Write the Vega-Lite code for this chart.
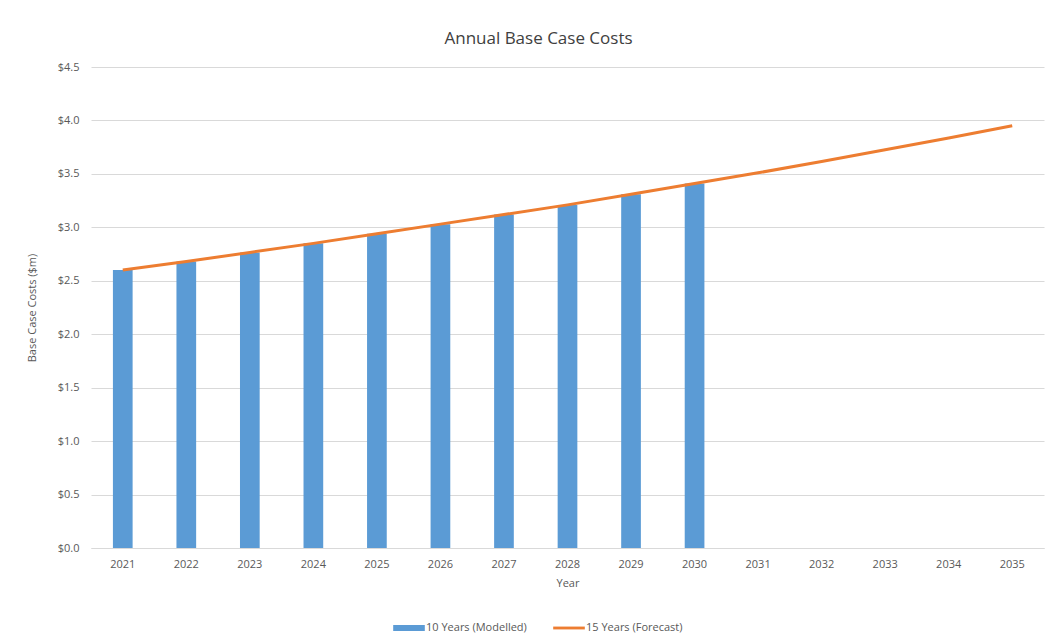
{
  "$schema": "https://vega.github.io/schema/vega-lite/v6.json",
  "autosize": {"type": "none"},
  "width": 953,
  "height": 481,
  "padding": {"left": 91, "top": 67, "right": 9, "bottom": 92},
  "background": "white",
  "config": {
    "font": "Open Sans",
    "view": {"stroke": null},
    "axis": {"labelColor": "#595959", "titleColor": "#595959", "labelFont": "Open Sans", "titleFont": "Open Sans", "titleFontWeight": "normal", "labelFontSize": 11, "titleFontSize": 11}
  },
  "title": {"text": "Annual Base Case Costs", "fontSize": 17, "fontWeight": "normal", "color": "#404040", "font": "Open Sans", "anchor": "middle", "dx": -29, "offset": 13},
  "data": {
    "values": [
      {"year": "2021", "series": "10 Years (Modelled)", "cost": 2.60},
      {"year": "2022", "series": "10 Years (Modelled)", "cost": 2.68},
      {"year": "2023", "series": "10 Years (Modelled)", "cost": 2.765},
      {"year": "2024", "series": "10 Years (Modelled)", "cost": 2.85},
      {"year": "2025", "series": "10 Years (Modelled)", "cost": 2.94},
      {"year": "2026", "series": "10 Years (Modelled)", "cost": 3.03},
      {"year": "2027", "series": "10 Years (Modelled)", "cost": 3.12},
      {"year": "2028", "series": "10 Years (Modelled)", "cost": 3.21},
      {"year": "2029", "series": "10 Years (Modelled)", "cost": 3.31},
      {"year": "2030", "series": "10 Years (Modelled)", "cost": 3.41},
      {"year": "2021", "series": "15 Years (Forecast)", "cost": 2.60},
      {"year": "2022", "series": "15 Years (Forecast)", "cost": 2.68},
      {"year": "2023", "series": "15 Years (Forecast)", "cost": 2.765},
      {"year": "2024", "series": "15 Years (Forecast)", "cost": 2.85},
      {"year": "2025", "series": "15 Years (Forecast)", "cost": 2.94},
      {"year": "2026", "series": "15 Years (Forecast)", "cost": 3.03},
      {"year": "2027", "series": "15 Years (Forecast)", "cost": 3.12},
      {"year": "2028", "series": "15 Years (Forecast)", "cost": 3.21},
      {"year": "2029", "series": "15 Years (Forecast)", "cost": 3.31},
      {"year": "2030", "series": "15 Years (Forecast)", "cost": 3.41},
      {"year": "2031", "series": "15 Years (Forecast)", "cost": 3.51},
      {"year": "2032", "series": "15 Years (Forecast)", "cost": 3.615},
      {"year": "2033", "series": "15 Years (Forecast)", "cost": 3.725},
      {"year": "2034", "series": "15 Years (Forecast)", "cost": 3.835},
      {"year": "2035", "series": "15 Years (Forecast)", "cost": 3.95}
    ]
  },
  "encoding": {
    "x": {
      "field": "year", "type": "ordinal", "title": "Year",
      "scale": {"domain": ["2021","2022","2023","2024","2025","2026","2027","2028","2029","2030","2031","2032","2033","2034","2035"], "paddingInner": 0.69, "paddingOuter": 0.345},
      "axis": {"labelAngle": 0, "ticks": false, "domainColor": "#d9d9d9", "labelPadding": 10, "titlePadding": 8, "grid": false}
    },
    "y": {
      "field": "cost", "type": "quantitative", "title": "Base Case Costs ($m)",
      "scale": {"domain": [0, 4.5], "nice": false},
      "axis": {"values": [0,0.5,1,1.5,2,2.5,3,3.5,4,4.5], "format": "$.1f", "domain": false, "ticks": false, "gridColor": "#d9d9d9", "labelPadding": 12, "titlePadding": 20}
    },
    "color": {
      "field": "series", "type": "nominal",
      "scale": {"domain": ["10 Years (Modelled)", "15 Years (Forecast)"], "range": ["#5b9bd5", "#ed7d31"]},
      "legend": {
        "title": null, "orient": "none", "direction": "horizontal", "legendX": 302, "legendY": 545,
        "labelColor": "#595959", "labelFontSize": 11, "labelFont": "Open Sans",
        "symbolType": "M-1,-0.2H1V0.2H-1Z", "symbolSize": 1000, "symbolStrokeWidth": 0, "columnPadding": 26, "labelOffset": 1,
        "encode": {"symbols": {"update": {"shape": {"signal": "datum.value === '10 Years (Modelled)' ? 'M-1,-0.19H1V0.19H-1Z' : 'M-1,-0.09H1V0.09H-1Z'"}}}}
      }
    }
  },
  "layer": [
    {
      "transform": [{"filter": "datum.series === '10 Years (Modelled)'"}],
      "mark": {"type": "bar"}
    },
    {
      "transform": [{"filter": "datum.series === '15 Years (Forecast)'"}],
      "mark": {"type": "line", "strokeWidth": 3}
    }
  ]
}
